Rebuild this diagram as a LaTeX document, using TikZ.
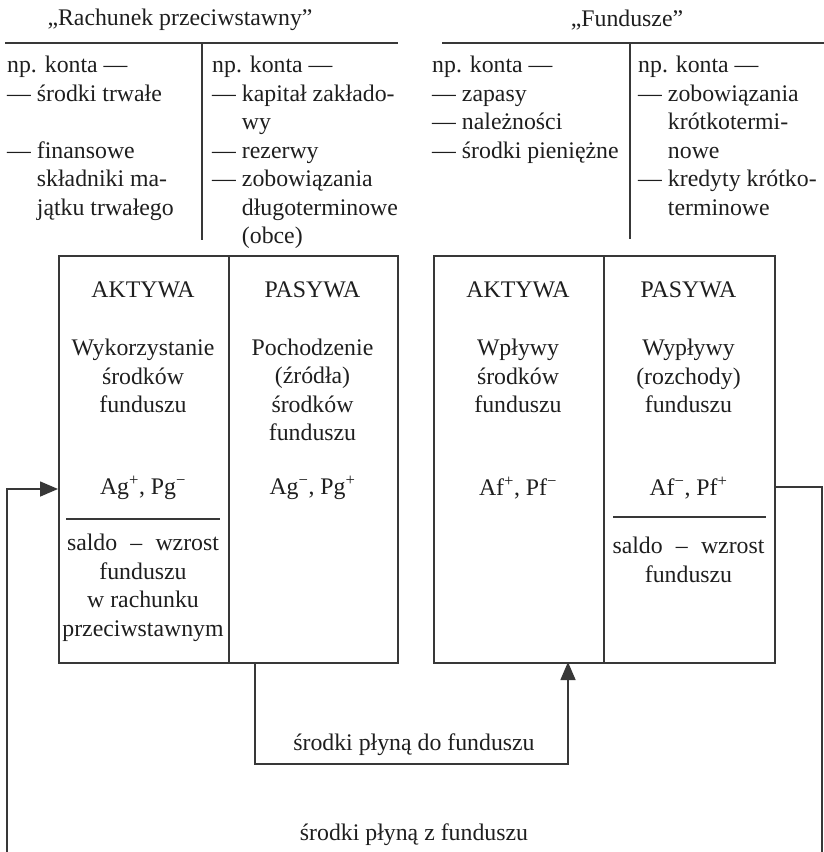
\documentclass[tikz,border=0pt]{standalone}
\usepackage{fontspec}
\setmainfont{Liberation Serif}
\usetikzlibrary{arrows.meta}
\definecolor{ink}{HTML}{1E1E1E}
\definecolor{rule}{HTML}{383838}
\begin{document}
\begin{tikzpicture}[x=1pt,y=-1pt,
  txt/.style={inner sep=0pt,text=ink,font=\fontsize{23.8}{28.5}\selectfont},
  col/.style={txt,anchor=north west,align=left},
  ctr/.style={txt,align=center},
  cell/.style={draw=rule,line width=1.6pt,anchor=north west,inner sep=0pt},
  ln/.style={draw=rule,line width=1.6pt},
  arr/.style={ln,-{Triangle[length=18pt,width=15pt]}}]
\useasboundingbox (0,0) rectangle (824,852);
\newcommand{\ind}{\phantom{— }}
% titles
\node[txt] (t1) at (180,20) {„Rachunek przeciwstawny”};
\node[txt] (t2) at (627,20) {„Fundusze”};
\draw[ln] (5,43) -- (398,43);
\draw[ln] (202,43) -- (202,240);
\draw[ln] (442,43) -- (824,43);
\draw[ln] (630,43) -- (630,239);
% account lists
\node[col] (c1) at (7,56) {np. konta —\\— środki trwałe\\\mbox{}\\— finansowe\\\ind składniki ma-\\\ind jątku trwałego};
\node[col] (c2) at (212,56) {np. konta —\\— kapitał zakłado-\\\ind wy\\— rezerwy\\— zobowiązania\\\ind długoterminowe\\\ind (obce)};
\node[col] (c3) at (432,56) {np. konta —\\— zapasy\\— należności\\— środki pieniężne};
\node[col] (c4) at (638,56) {np. konta —\\— zobowiązania\\\ind krótkotermi-\\\ind nowe\\— kredyty krótko-\\\ind terminowe};
% boxes
\node[cell,minimum width=170pt,minimum height=407pt] (lA) at (58,255) {};
\node[cell,minimum width=169pt,minimum height=407pt] (lP) at (228,255) {};
\node[cell,minimum width=170pt,minimum height=407pt] (rA) at (433,255) {};
\node[cell,minimum width=171pt,minimum height=407pt] (rP) at (603,255) {};
% left box text
\node[ctr] (la1) at (143,290) {AKTYWA};
\node[ctr] (la2) at (143,376) {Wykorzystanie\\środków\\funduszu};
\node[ctr] (la3) at (143,488) {Ag\textsuperscript{+}, Pg\textsuperscript{−}};
\draw[ln] (66,519) -- (220,519);
\node[ctr] (la4) at (143,588) {\makebox[152pt]{saldo\hfill–\hfill wzrost}\\funduszu\\w rachunku\\przeciwstawnym};
\node[ctr] (lp1) at (312.5,290) {PASYWA};
\node[ctr] (lp2) at (312.5,390) {Pochodzenie\\(źródła)\\środków\\funduszu};
\node[ctr] (lp3) at (312.5,488) {Ag\textsuperscript{−}, Pg\textsuperscript{+}};
% right box text
\node[ctr] (ra1) at (518,290) {AKTYWA};
\node[ctr] (ra2) at (518,376) {Wpływy\\środków\\funduszu};
\node[ctr] (ra3) at (518,488) {Af\textsuperscript{+}, Pf\textsuperscript{−}};
\node[ctr] (rp1) at (688.5,290) {PASYWA};
\node[ctr] (rp2) at (688.5,376) {Wypływy\\(rozchody)\\funduszu};
\node[ctr] (rp3) at (688.5,488) {Af\textsuperscript{−}, Pf\textsuperscript{+}};
\draw[ln] (613,517) -- (766,517);
\node[ctr] (rp4) at (688.5,560) {\makebox[152pt]{saldo\hfill–\hfill wzrost}\\funduszu};
% connectors
\coordinate (m1) at (255,662);
\coordinate (mb) at (255,764);
\coordinate (m2) at (568,662);
\draw[arr] (m1) -- (mb) -| (m2);
\node[txt] (lbl1) at (414,745) {środki płyną do funduszu};
\coordinate (lb) at (7,852);
\coordinate (la) at (58,489);
\draw[arr] (lb) |- (la);
\coordinate (ra) at (774,487);
\coordinate (rb) at (822,852);
\draw[ln] (ra) -| (rb);
\node[txt] (lbl2) at (414,835) {środki płyną z funduszu};
\end{tikzpicture}
\end{document}
